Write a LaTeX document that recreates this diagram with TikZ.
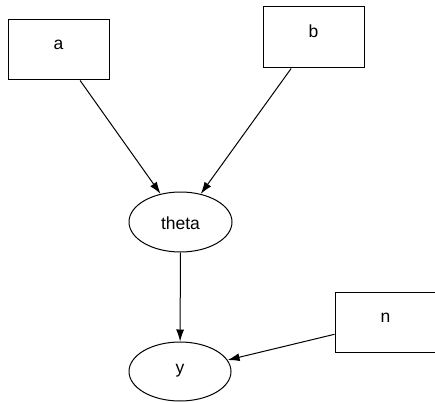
\documentclass[tikz,border=0pt]{standalone}
\usepackage{fontspec}
\setmainfont{Liberation Sans}
\usetikzlibrary{arrows.meta,shapes}

\begin{document}
\begin{tikzpicture}[x=1pt,y=1pt,line width=1pt,
    box/.style={draw,rectangle,minimum width=101,minimum height=60,inner sep=0pt,text height=10pt,text depth=10pt},
    oval/.style={draw,ellipse,minimum width=103,minimum height=60,inner sep=0pt,text height=14pt,text depth=0pt},
    every node/.style={font=\fontsize{17.5}{20}\selectfont},
    >={Latex[length=12pt,width=8pt]}]
    \useasboundingbox (0,0) rectangle (435,402);
    % rectangles
    \node[box] (a) at (58.5,352) {a};
    \node[box,minimum height=61] (b) at (313.5,364.5) {b};
    \node[box] (n) at (385.5,80) {n};
    % ellipses
    \node[oval] (theta) at (180.5,180) {theta};
    \node[oval,minimum width=102,minimum height=59,text height=8pt,text depth=5pt] (y) at (180,30.5) {y};

    \draw[->] (a) -- (theta);
    \draw[->] (b) -- (theta);
    \draw[->] (theta) -- (y);
    \draw[->] (n) -- (y);
\end{tikzpicture}
\end{document}
